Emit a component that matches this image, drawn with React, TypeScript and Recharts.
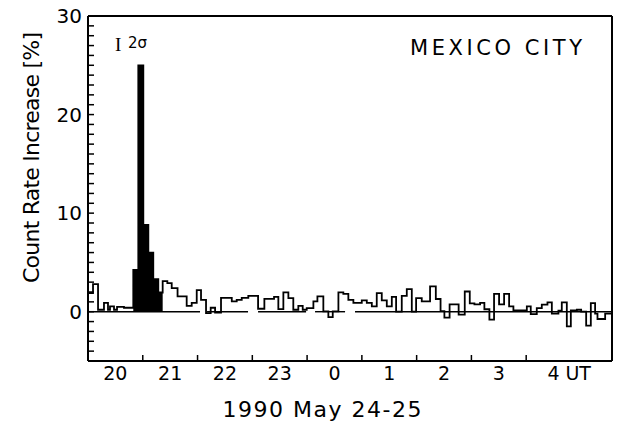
import { ComposedChart, Line, Area, XAxis, YAxis, ReferenceLine } from "recharts";

// minutes after 20:00 UT (1990 May 24) where each histogram step starts
const stepTimes = [
  0, 5.5, 11.0, 17.5, 21.9, 24.1, 28.5, 31.8, 39.4, 49.6,
  55.1, 60.6, 66.1, 71.5, 77.0, 81.8, 86.9, 91.7, 98.1, 108.1,
  113.6, 119.1, 123.8, 129.3, 134.4, 139.2, 145.7, 157.5, 162.9, 168.4,
  175.6, 186.3, 193.2, 203.8, 208.5, 214.0, 219.5, 224.9, 230.4, 235.2,
  239.6, 246.9, 251.3, 257.8, 263.3, 268.1, 274.3, 279.7, 285.2, 290.7,
  299.9, 305.4, 310.9, 316.3, 321.8, 327.3, 332.8, 337.5, 343.7, 349.2,
  354.7, 359.4, 365.6, 374.7, 381.0, 386.2, 390.4, 396.1, 406.0, 412.7,
  418.2, 423.3, 429.5, 434.2, 439.7, 444.8, 450.3, 455.8, 461.3, 466.0,
  480.7, 485.0, 491.6, 497.1, 503.3, 508.1, 515.3, 519.0, 524.5, 528.9,
  535.5, 540.2, 545.7, 550.8, 555.5, 558.1, 566.5, 574,
];

// count rate increase [%] for each step
const stepValues = [
  1.9, 2.8, 0.2, 0.9, 0.2, 0.55, 0.2, 0.5, 0.4, 4.25,
  25, 8.8, 6.0, 3.3, 1.95, 3.1, 2.9, 2.4, 1.55, 0.6,
  0.9, 2.2, 1.2, -0.15, 0.4, -0.1, 1.4, 1.05, 1.2, 1.4,
  1.6, 0.3, 1.3, 1.5, 0.27, 1.96, 1.38, 0.2, 0.6, 0.2,
  0.37, 1.05, 1.55, 0.03, -0.54, 0.03, 1.96, 1.8, 1.2, 0.9,
  1.15, 0.9, 0.54, 1.89, 1.15, 0.55, 1.5, 0.0, 1.6, 2.3,
  0.0, 1.38, 1.05, 2.57, 1.29, 0.05, -0.6, 0.75, -0.3, 2.05,
  0.85, 0.75, 0.9, 0.25, -0.8, 1.8, 0.75, 1.8, 0.55, 0.13,
  0.54, -0.24, 0.37, 0.71, 0.95, -0.2, 0.1, 0.95, -1.49, 0.13,
  0.2, 0.0, -1.42, 0.88, -0.2, -0.74, -0.2, -0.2,
];

// ground level enhancement, drawn filled
const spikeFrom = 49.6;
const spikeTo = 81.8;

// the zero baseline is broken in a few places
const zeroSegments = [
  [0, 122.7],
  [130.4, 175.3],
  [186.3, 238.9],
  [248.7, 281.6],
  [292.5, 574],
];

const hourTicks = [60, 120, 180, 240, 300, 360, 420, 480];
const hourLabelPos = [30, 90, 150, 210, 270, 330, 390, 450, 510, 537];
const hourLabels = ["20", "21", "22", "23", "0", "1", "2", "3", "4", "UT"];
const yTicks = Array.from({ length: 36 }, (_, i) => i - 5);

const data = stepTimes.map((t, i) => ({
  t,
  v: stepValues[i],
  fill: t >= spikeFrom && t <= spikeTo ? stepValues[i] : null,
}));

const font = "DejaVu Sans, sans-serif";

function BottomTick(props: any) {
  const { x, y, payload } = props;
  const value = payload.value;
  if (hourTicks.includes(value)) {
    return <line x1={x} y1={y} x2={x} y2={y - 6} stroke="#000" strokeWidth={1.5} />;
  }
  const idx = hourLabelPos.indexOf(value);
  if (idx < 0) return <g />;
  return (
    <text x={x} y={y + 19} textAnchor="middle" fontSize={19} fontFamily={font} fill="#000">
      {hourLabels[idx]}
    </text>
  );
}

function LeftTick(props: any) {
  const { x, y, payload } = props;
  const value = payload.value;
  return (
    <g>
      <line x1={x} y1={y} x2={x + 6} y2={y} stroke="#000" strokeWidth={1.5} />
      {value % 10 === 0 && (
        <text x={x - 6} y={y + 7} textAnchor="end" fontSize={20} fontFamily={font} fill="#000">
          {value}
        </text>
      )}
    </g>
  );
}

function RightTick(props: any) {
  const { x, y } = props;
  return <line x1={x} y1={y} x2={x - 6} y2={y} stroke="#000" strokeWidth={1.5} />;
}

export default function App() {
  return (
    <div style={{ position: "absolute", left: 0, top: 0, width: 636, height: 424, background: "#fff" }}>
      <ComposedChart width={636} height={424} data={data} margin={{ top: 16, right: 20, left: 0, bottom: 0 }}>
        <XAxis
          dataKey="t"
          type="number"
          domain={[0, 574]}
          ticks={[...hourLabelPos, ...hourTicks].sort((a, b) => a - b)}
          interval={0}
          tickSize={0}
          tickMargin={0}
          tickLine={false}
          height={63}
          axisLine={{ stroke: "#000", strokeWidth: 2 }}
          tick={(p: any) => <BottomTick {...p} />}
        />
        <YAxis
          type="number"
          domain={[-5, 30]}
          ticks={yTicks}
          interval={0}
          width={88}
          tickSize={0}
          tickMargin={0}
          tickLine={false}
          axisLine={{ stroke: "#000", strokeWidth: 2 }}
          tick={(p: any) => <LeftTick {...p} />}
        />
        <YAxis
          yAxisId="r"
          orientation="right"
          type="number"
          domain={[-5, 30]}
          ticks={yTicks}
          interval={0}
          width={4}
          tickSize={0}
          tickMargin={0}
          tickLine={false}
          axisLine={{ stroke: "#000", strokeWidth: 2 }}
          tick={(p: any) => <RightTick {...p} />}
        />
        <ReferenceLine y={30} stroke="#000" strokeWidth={2} />
        <Area
          type="stepAfter"
          dataKey="fill"
          fill="#000"
          fillOpacity={1}
          stroke="none"
          baseValue={0}
          isAnimationActive={false}
        />
        {zeroSegments.map(([a, b], i) => (
          <ReferenceLine
            key={i}
            segment={[{ x: a, y: 0 }, { x: b, y: 0 }]}
            stroke="#000"
            strokeWidth={1.4}
          />
        ))}
        <Line
          type="stepAfter"
          dataKey="v"
          stroke="#000"
          strokeWidth={1.8}
          dot={false}
          isAnimationActive={false}
        />
      </ComposedChart>
      <svg
        width={636}
        height={424}
        style={{ position: "absolute", left: 0, top: 0, pointerEvents: "none" }}
      >
        <text
          x={39}
          y={157.5}
          transform="rotate(-90, 39, 157.5)"
          textAnchor="middle"
          fontSize={22}
          fontFamily={font}
          textLength={251}
          lengthAdjust="spacing"
        >
          Count Rate Increase [%]
        </text>
        <text x={322} y={417} textAnchor="middle" fontSize={22} fontFamily={font} textLength={199} lengthAdjust="spacing">
          1990 May 24-25
        </text>
        <text x={410} y={55} fontSize={21} fontFamily={font} textLength={172} lengthAdjust="spacing">
          MEXICO CITY
        </text>
        <text x={115} y={51} fontSize={19} fontFamily="Liberation Serif, serif">
          I
        </text>
        <text x={128} y={48} fontSize={15} fontFamily={font}>
          2σ
        </text>
      </svg>
    </div>
  );
}
